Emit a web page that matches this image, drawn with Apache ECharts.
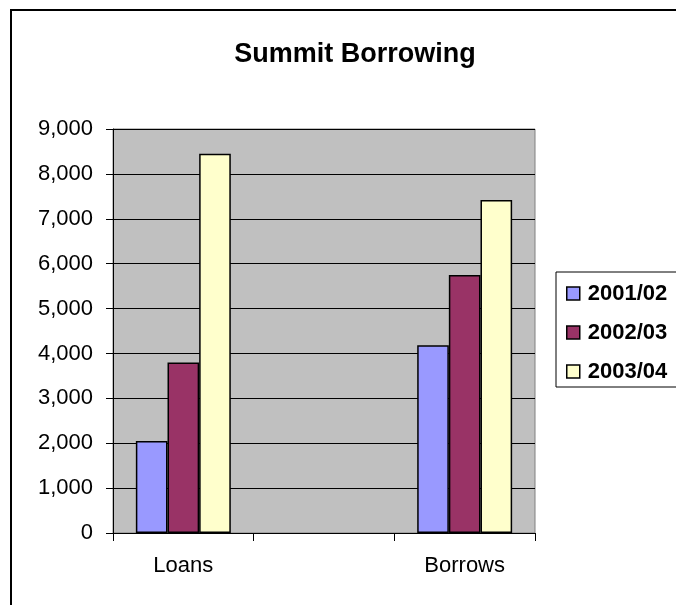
<!DOCTYPE html>
<html>
<head>
<meta charset="utf-8">
<script src="https://cdn.jsdelivr.net/npm/echarts@6/dist/echarts.min.js"></script>
<style>
html,body{margin:0;padding:0;background:#fff;}
#chart{width:676px;height:605px;}
</style>
</head>
<body>
<div id="chart"></div>
<script>
const titleText = 'Summit Borrowing';
const categories = ['Loans', '', 'Borrows'];
const seriesNames = ['2001/02', '2002/03', '2003/04'];
const values2001 = [2050, null, 4180];
const values2002 = [3800, null, 5750];
const values2003 = [8450, null, 7420];
const yTicks = { min: 0, max: 9000, interval: 1000 };

const colors = ['#9999FF', '#993366', '#FFFFCC'];
const font = '"Liberation Sans", Arial, sans-serif';
const seriesData = [values2001, values2002, values2003];

const chart = echarts.init(document.getElementById('chart'), null, {renderer: 'canvas'});
chart.setOption({
  animation: false,
  backgroundColor: '#fff',
  title: {
    text: titleText,
    left: 350,
    textAlign: 'center',
    top: 36,
    textStyle: {fontFamily: font, fontWeight: 'bold', fontSize: 27, color: '#000'}
  },
  graphic: [
    {type: 'rect', shape: {x: 11, y: 10, width: 800, height: 800}, style: {fill: null, stroke: '#000', lineWidth: 2}, z: 100},
    {type: 'rect', shape: {x: 556, y: 272, width: 200, height: 115}, style: {fill: '#fff', stroke: '#000', lineWidth: 1}, z: 0}
  ],
  legend: {
    orient: 'vertical',
    left: 556,
    top: 272,
    padding: [10, 10, 10, 10],
    itemWidth: 13,
    itemHeight: 13,
    itemGap: 16,
    icon: 'rect',
    data: seriesNames,
    itemStyle: {borderColor: '#000', borderWidth: 1.5},
    textStyle: {fontFamily: font, fontWeight: 'bold', fontSize: 22, lineHeight: 23, color: '#000', padding: [0, 0, 0, 3]},
    z: 10
  },
  grid: {left: 113, top: 129, right: 141, bottom: 72, show: true, backgroundColor: '#C0C0C0', borderColor: '#808080', borderWidth: 1},
  xAxis: {
    type: 'category',
    data: categories,
    axisLine: {lineStyle: {color: '#000', width: 1}},
    axisTick: {show: true, length: 8, lineStyle: {color: '#000'}, alignWithLabel: false},
    axisLabel: {fontFamily: font, fontSize: 22, color: '#000', margin: 22, interval: 0},
    splitLine: {show: false}
  },
  yAxis: {
    type: 'value',
    min: yTicks.min, max: yTicks.max, interval: yTicks.interval,
    axisLine: {show: true, lineStyle: {color: '#000', width: 1}},
    axisTick: {show: true, length: 7, lineStyle: {color: '#000'}},
    axisLabel: {fontFamily: font, fontSize: 22, color: '#000', margin: 20,
      formatter: v => v.toLocaleString('en-US')},
    splitLine: {show: true, lineStyle: {color: '#000', width: 1}}
  },
  series: seriesNames.map((n, i) => ({
    name: n,
    type: 'bar',
    data: seriesData[i],
    barGap: '0%',
    barCategoryGap: '32.5%',
    itemStyle: {color: colors[i], borderColor: '#000', borderWidth: 1.5}
  }))
});
</script>
</body>
</html>
